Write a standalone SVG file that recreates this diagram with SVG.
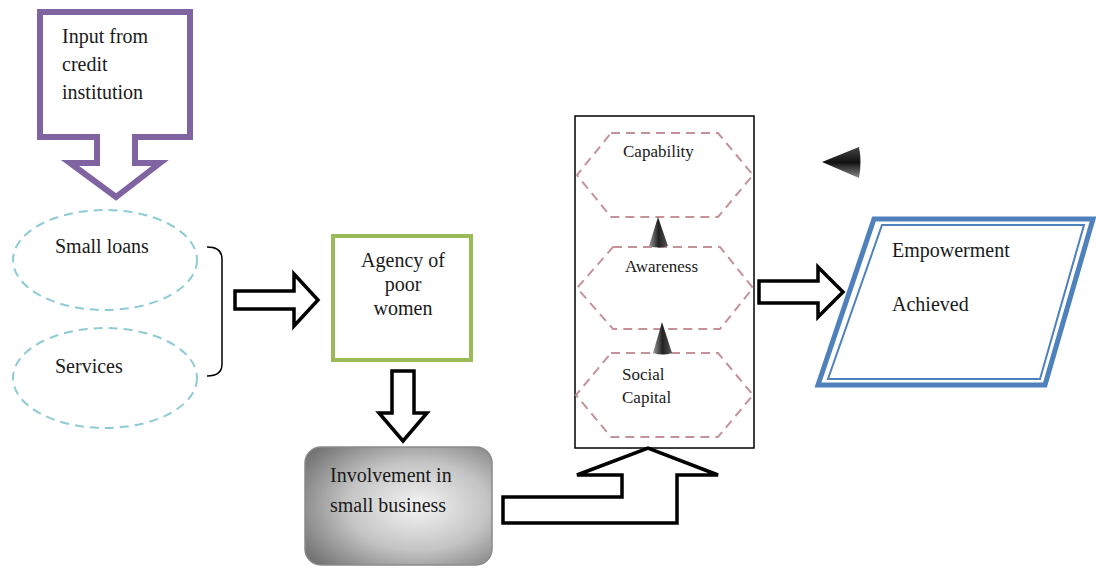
<svg xmlns="http://www.w3.org/2000/svg" width="1096" height="568" viewBox="0 0 1096 568">
<defs>
<style>
text{font-family:"Liberation Serif","Times New Roman",serif;fill:#1a1a1a}
.t20{font-size:20px}
.t17{font-size:17px}
.blk{fill:#fff;stroke:#000;stroke-width:3.5;stroke-linejoin:miter}
.ell{fill:none;stroke:#8fcbd3;stroke-width:2;stroke-dasharray:9 6}
.hex{fill:none;stroke:#c4939a;stroke-width:2;stroke-dasharray:9 6}
</style>
<radialGradient id="gGray" cx="0.6" cy="0.5" r="0.75">
<stop offset="0" stop-color="#f4f4f4"/>
<stop offset="0.5" stop-color="#c4c4c4"/>
<stop offset="1" stop-color="#6c6c6c"/>
</radialGradient>
<linearGradient id="gCone" x1="0" y1="0" x2="1" y2="0">
<stop offset="0" stop-color="#9a9a9a"/>
<stop offset="0.5" stop-color="#222"/>
<stop offset="1" stop-color="#555"/>
</linearGradient>
<linearGradient id="gCone2" x1="0" y1="0" x2="0" y2="1">
<stop offset="0" stop-color="#444"/>
<stop offset="0.5" stop-color="#111"/>
<stop offset="1" stop-color="#8a8a8a"/>
</linearGradient>
</defs>
<rect width="1096" height="568" fill="#fff"/>

<g id="input">
<path d="M40,12 H190 V137 H135 V163 H160 L116,197 L70,163 H97 V137 H40 Z" fill="#fff" stroke="#8064a2" stroke-width="6"/>
<text class="t20" x="62" y="43">Input from</text>
<text class="t20" x="62" y="71">credit</text>
<text class="t20" x="62" y="99">institution</text>
</g>

<g id="small-loans">
<ellipse class="ell" cx="105" cy="260" rx="92" ry="50"/>
<text class="t20" x="55" y="253">Small loans</text>
</g>

<g id="services">
<ellipse class="ell" cx="105" cy="378" rx="92" ry="50"/>
<text class="t20" x="55" y="373">Services</text>
</g>

<g id="agency">
<rect x="333" y="236" width="138" height="124" fill="#fff" stroke="#9bbb59" stroke-width="4"/>
<text class="t20" x="403" y="267" text-anchor="middle">Agency of</text>
<text class="t20" x="403" y="291" text-anchor="middle">poor</text>
<text class="t20" x="403" y="315" text-anchor="middle">women</text>
</g>

<g id="involvement">
<rect x="305" y="447" width="187" height="118" rx="16" fill="url(#gGray)" stroke="#8a8a8a" stroke-width="1.5"/>
<text class="t20" x="330" y="482">Involvement in</text>
<text class="t20" x="330" y="512">small business</text>
</g>

<g id="container">
<rect x="575" y="116" width="179" height="332" fill="#fff" stroke="#000" stroke-width="1.5"/>
</g>

<g id="capability">
<polygon class="hex" points="611,133 718,133 753,175 718,217 611,217 577,175"/>
<text class="t17" x="623" y="157">Capability</text>
</g>

<g id="awareness">
<polygon class="hex" points="613,247 720,247 753,288 720,329 613,329 577,288"/>
<text class="t17" x="625" y="272">Awareness</text>
</g>

<g id="social-capital">
<polygon class="hex" points="611,353 718,353 753,395 718,437 611,437 576,395"/>
<text class="t17" x="622" y="380">Social</text>
<text class="t17" x="622" y="403">Capital</text>
</g>

<g id="empowerment">
<polygon points="874,219 1093,219 1045,385 818,385" fill="#fff" stroke="#4f81bd" stroke-width="5"/>
<polygon points="882,225 1084,225 1040,379 828,379" fill="none" stroke="#4f81bd" stroke-width="2"/>
<text class="t20" x="892" y="257">Empowerment</text>
<text class="t20" x="892" y="311">Achieved</text>
</g>

<g id="connectors">
<path d="M207,247 Q222,247 222,259 V364 Q222,376 207,376" fill="none" stroke="#000" stroke-width="1.5"/>
<path class="blk" d="M235,291 H294 V274 L318,300 L294,326 V309 H235 Z"/>
<path class="blk" d="M392,371 H414 V413 H427 L403,441 L379,413 H392 Z"/>
<path class="blk" d="M503,497 H622 V475 H577 L648,448 L718,475 H677 V523 H503 Z"/>
<path class="blk" d="M759,281 H818 V267 L843,292 L818,317 V303 H759 Z"/>
<path d="M658,217 L668,246 Q659,249 649,246 Z" fill="url(#gCone)"/>
<path d="M662,322 L672,353 Q663,356 653,353 Z" fill="url(#gCone)"/>
<path d="M822,162 L859,147 Q862,162 859,178 Z" fill="url(#gCone2)"/>
</g>
</svg>
